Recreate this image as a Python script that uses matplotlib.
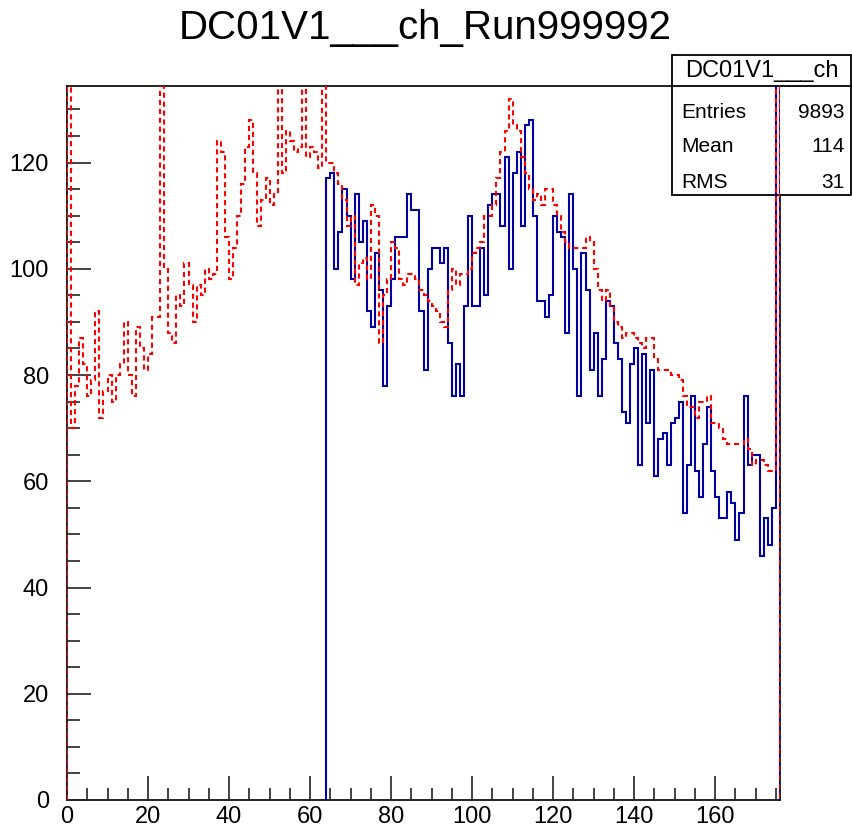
import matplotlib
matplotlib.use("Agg")
import numpy as np
import matplotlib.pyplot as plt
from matplotlib.patches import Rectangle
from matplotlib.lines import Line2D
from matplotlib.ticker import MultipleLocator

plt.rcParams['font.family'] = ['Liberation Sans', 'DejaVu Sans']

title = "DC01V1___ch_Run999992"
stat_name = "DC01V1___ch"
stat_labels = ["Entries", "Mean", "RMS"]
stat_values = ["9893", "114", "31"]

n_channels = 176
blue_first = 64

# reference histogram (red dashed), one count per channel 0..175
red_counts = [140,
              70, 78, 87, 82, 76, 79, 92, 72, 77, 80, 75, 80, 82, 90, 80, 76, 89, 85, 81, 84, 91, 91,
              140,
              100, 88, 86, 95, 93, 101, 97, 90, 97, 95, 100, 98, 99, 124, 122, 106, 98, 104, 110,
              116, 123, 128, 118, 108, 113, 117, 112,
              114, 138,
              118, 126, 124, 122, 123, 138, 121, 123, 122, 119,
              140,
              120, 120, 118, 116, 113, 108, 110, 97, 101, 102, 98, 112, 110, 86, 95, 98, 105, 104, 98, 97,
              99, 99, 98, 96, 95, 94, 93, 92, 90, 89, 96, 100, 97, 99, 99, 100, 103, 104, 105, 110,
              110, 112, 117, 122, 126, 132, 127, 126, 121, 118, 115, 113, 114, 112, 115, 115, 112, 110,
              107, 105, 104, 104,
              104, 104, 106, 105, 100, 96, 94, 96, 93, 90, 89, 87, 88, 88, 87, 86, 85, 87, 87, 83, 81, 81, 81,
              80, 80, 79, 76, 74, 74, 72, 75, 75, 76, 71, 71, 70, 68, 67, 67, 67, 67, 68, 66, 63, 64, 64,
              63, 62, 62,
              140]

# this run (blue), channels 64..175
blue_counts = [117, 118, 100, 107, 115, 110, 98, 114, 105, 109, 92, 89, 103, 96, 78, 93, 98, 106, 106, 106,
               114, 111, 111, 92, 81, 100, 104, 104, 101, 104, 86, 76, 82, 76, 93, 110, 93, 93, 104, 95,
               112, 114, 114, 108, 121, 100, 118, 122, 108, 127, 128, 110, 94, 94, 91, 95, 110, 107, 106,
               88, 114, 100, 76,
               103, 96, 81, 88, 76, 83, 94, 93, 86, 83, 73, 71, 82, 85, 63, 84, 71, 81, 61, 68,
               69, 63, 71, 72, 75, 54, 63, 76, 62, 57, 67, 74, 62, 57, 53, 53, 58, 56, 49, 54, 76, 63,
               65, 65, 46, 53, 48, 55, 140]

W, H = 853, 832
fig = plt.figure(figsize=(W / 100, H / 100), dpi=100)
fig.patch.set_facecolor('white')

# frame in pixels: x 67..780, y 86..800
ax = fig.add_axes([67 / W, 1 - 800 / H, (780 - 67) / W, (800 - 86) / H])
ax.patch.set_facecolor('white')

edges_red = np.arange(len(red_counts) + 1)
edges_blue = np.arange(blue_first, blue_first + len(blue_counts) + 1)

ax.stairs(blue_counts, edges_blue, color='#0000a0', lw=1.5, zorder=3)
ax.stairs(red_counts, edges_red, color='red', lw=1.5, ls=(0, (2.5, 1.8)), zorder=3.1)

ax.set_xlim(0, n_channels)
ax.set_ylim(0, 134.4)

ax.xaxis.set_major_locator(MultipleLocator(20))
ax.xaxis.set_minor_locator(MultipleLocator(5))
ax.yaxis.set_major_locator(MultipleLocator(20))
ax.yaxis.set_minor_locator(MultipleLocator(5))
ax.tick_params(which='both', direction='in', top=False, right=False, width=1.2,
               color='#222222', labelsize=17)
ax.tick_params(which='major', length=17)
ax.tick_params(which='minor', length=9)
ax.tick_params(axis='x', pad=4)
ax.tick_params(axis='y', pad=13)
for s in ax.spines.values():
    s.set_linewidth(1.4)
    s.set_color('#222222')

fig.text(425 / W, 1 - 28 / H, title, ha='center', va='center', fontsize=29)

# stats box (sits over the frame, under the histogram lines)
bx0, bx1, by0, by1 = 672, 851, 55, 195
box = Rectangle((bx0 / W, 1 - by1 / H), (bx1 - bx0) / W, (by1 - by0) / H,
                transform=fig.transFigure, facecolor='white', edgecolor='black',
                lw=1.3, clip_on=False, zorder=2.7)
ax.add_artist(box)
sep = Line2D([bx0 / W, bx1 / W], [1 - 86 / H, 1 - 86 / H], transform=fig.transFigure,
             color='black', lw=1.3, clip_on=False, zorder=2.75)
ax.add_artist(sep)
ax.text((bx0 + bx1) / 2 / W, 1 - 71 / H, stat_name, transform=fig.transFigure,
        ha='center', va='center', fontsize=17, clip_on=False, zorder=2.8)
row_y = [113, 146, 182]
for lab, val, yy in zip(stat_labels, stat_values, row_y):
    ax.text(681 / W, 1 - yy / H, lab, transform=fig.transFigure, ha='left', va='center',
            fontsize=15, clip_on=False, zorder=2.8)
    ax.text(845 / W, 1 - yy / H, val, transform=fig.transFigure, ha='right', va='center',
            fontsize=15, clip_on=False, zorder=2.8)

fig.savefig('out.png', dpi=100)
